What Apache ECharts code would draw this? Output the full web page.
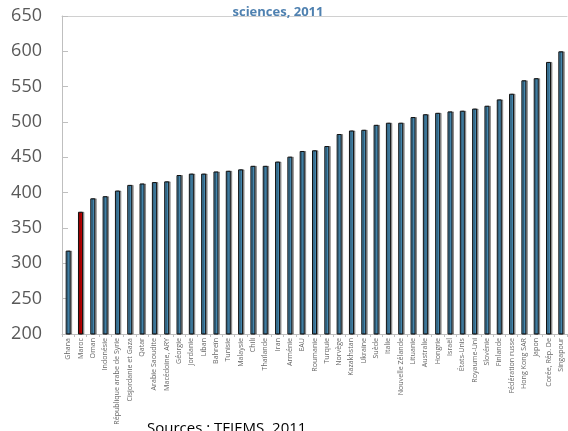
<!DOCTYPE html>
<html>
<head>
<meta charset="utf-8">
<script src="https://cdn.jsdelivr.net/npm/echarts@6/dist/echarts.min.js"></script>
<style>
  html, body { margin: 0; padding: 0; background: #fff; }
  #main { width: 568px; height: 431px; }
</style>
</head>
<body>
<div id="main"></div>
<script>
// pays (ordre croissant des scores)
var pays = ['Ghana', 'Maroc', 'Oman', 'Indonésie', 'République arabe de Syrie', 'Cisjordanie et Gaza',
    'Qatar', 'Arabie Saoudite', 'Macédoine, ARY', 'Géorgie', 'Jordanie', 'Liban', 'Bahreïn', 'Tunisie',
    'Malaysie', 'Chili', 'Thaïlande', 'Iran', 'Arménie', 'EAU', 'Roumanie', 'Turquie', 'Norvège',
    'Kazakhstan', 'Ukraine', 'Suède', 'Italie', 'Nouvelle Zélande', 'Lituanie', 'Australie', 'Hongrie',
    'Israël', 'États-Unis', 'Royaume-Uni', 'Slovénie', 'Finlande', 'Fédération russe', 'Hong Kong SAR',
    'Japon', 'Corée, Rép. De', 'Singapour'];
// scores en sciences
var scores = [318, 373, 392, 395, 403, 411, 413, 415, 416, 425, 427, 427, 430, 431, 433, 438, 438,
    444, 451, 459, 460, 466, 483, 488, 489, 496, 499, 499, 507, 511, 513, 515, 516, 519, 523,
    532, 540, 559, 562, 585, 600];
var paysMis = 'Maroc';
var yTicks = [200, 650, 50]; // min, max, pas

var myChart = echarts.init(document.getElementById('main'));

myChart.setOption({
    animation: false,
    title: {
        text: 'sciences, 2011',
        left: 273,
        textAlign: 'center',
        top: 1,
        textStyle: { color: '#4f81b0', fontSize: 13, fontWeight: 'bold', fontFamily: 'Open Sans' }
    },
    graphic: [{
        type: 'text',
        left: 147,
        top: 421,
        style: { text: 'Sources : TFIEMS, 2011', fill: '#000', font: '15px "Open Sans"' }
    }],
    grid: { left: 62, right: 1, top: 16, bottom: 97 },
    xAxis: [{
        type: 'category',
        data: pays,
        axisLine: { lineStyle: { color: '#bfbfbf', width: 1 } },
        axisTick: { show: true, length: 3, lineStyle: { color: '#bfbfbf' } },
        axisLabel: {
            rotate: 90,
            interval: 0,
            fontSize: 7.1,
            color: '#666',
            fontFamily: 'Open Sans',
            margin: 4
        }
    }, {
        type: 'category',
        data: pays,
        position: 'top',
        axisLine: { lineStyle: { color: '#d0d0d0', width: 1 } },
        axisTick: { show: false },
        axisLabel: { show: false }
    }],
    yAxis: {
        type: 'value',
        min: yTicks[0],
        max: yTicks[1],
        interval: yTicks[2],
        axisLine: { show: true, lineStyle: { color: '#bfbfbf' } },
        axisTick: { show: true, inside: true, length: 6, lineStyle: { color: '#bfbfbf' } },
        splitLine: { show: false },
        axisLabel: { fontSize: 18, color: '#595959', fontFamily: 'Open Sans', margin: 20 }
    },
    series: [{
        type: 'bar',
        data: scores.map(function (v, i) {
            return {
                value: v,
                itemStyle: { color: pays[i] === paysMis ? '#c00000' : '#4486ad' }
            };
        }),
        barWidth: 5,
        itemStyle: {
            borderColor: '#111',
            borderWidth: 1,
            shadowColor: 'rgba(0,0,0,0.35)',
            shadowOffsetX: 1.5,
            shadowBlur: 0
        }
    }]
});
</script>
</body>
</html>
